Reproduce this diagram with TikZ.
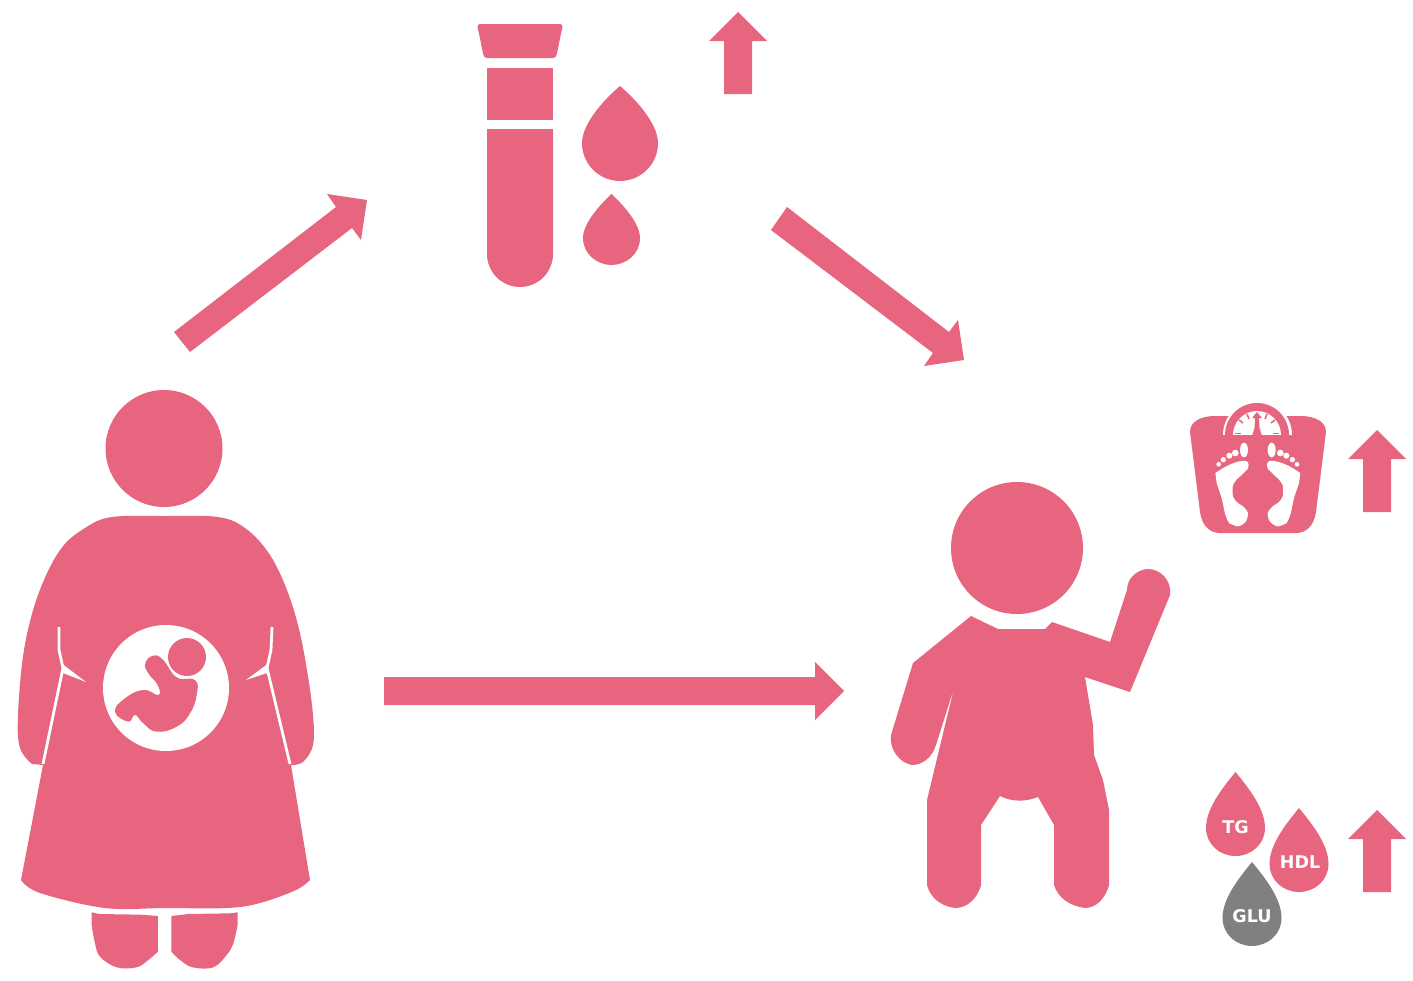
\documentclass[tikz,border=0pt]{standalone}
\usepackage{fontspec}
\setmainfont{DejaVu Sans}
\definecolor{rosefill}{HTML}{E8657F}
\definecolor{dropgray}{HTML}{808080}
\tikzset{
  rose/.style={fill=rosefill,draw=none},
  blank/.style={fill=white,draw=none},
  slit/.style={draw=white,line width=2.8pt,line join=round},
  droplabel/.style={text=white,font=\bfseries\fontsize{17.5}{17.5}\selectfont,inner sep=0pt},
  drop/.pic={\path[pic actions] (0,0) .. controls (14,17) and (29.5,37) .. (29.5,56) .. controls (29.5,72) and (16,84) .. (0,84) .. controls (-16,84) and (-29.5,72) .. (-29.5,56) .. controls (-29.5,37) and (-14,17) .. (0,0) -- cycle;},
}
\begin{document}
\begin{tikzpicture}[x=1pt,y=-1pt]
\useasboundingbox (0,0) rectangle (1413,980);
% arrows
\fill[rose] (724,94) -- (724,41) -- (709,41) -- (738,12) -- (767,41) -- (752,41) -- (752,94) -- cycle;
\fill[rose] (1363,512) -- (1363,459) -- (1348,459) -- (1377,430) -- (1406,459) -- (1391,459) -- (1391,512) -- cycle;
\fill[rose] (1363,892) -- (1363,839) -- (1348,839) -- (1377,810) -- (1406,839) -- (1391,839) -- (1391,892) -- cycle;
\fill[rose] (384,677) -- (815,677) -- (815,662) -- (844,691) -- (815,720) -- (815,705) -- (384,705) -- cycle;
\fill[rose] (174,332) -- (336,207) -- (327,194) -- (367,200) -- (361,240) -- (352,228) -- (190,352) -- cycle;
\fill[rose] (787,207) -- (771,230) -- (933,353) -- (924,366) -- (964,360) -- (958,320) -- (949,332) -- cycle;
% test tube
\fill[rose,rounded corners=3pt] (477,24) -- (563,24) -- (556,58) -- (484,58) -- cycle;
\fill[rose] (487,68) rectangle (553,120);
\fill[rose] (487,129) -- (553,129) -- (553,254) arc[start angle=0,end angle=180,radius=33] -- cycle;
\fill[rose] (620,86) .. controls (632,96) and (658,122) .. (658,143) .. controls (658,165) and (640,181) .. (620,181) .. controls (600,181) and (582,165) .. (582,143) .. controls (582,122) and (608,96) .. (620,86) -- cycle;
\fill[rose] (611.5,194) .. controls (620,202) and (640,222) .. (640,238) .. controls (640,254) and (626,265) .. (611.5,265) .. controls (597,265) and (583,254) .. (583,238) .. controls (583,222) and (603,202) .. (611.5,194) -- cycle;
% mother
\fill[rose] (164,448.5) circle[radius=58.5];
\fill[rose] plot[smooth,tension=.6] coordinates {(32,764) (20,748) (18,715) (24,650) (38,595) (60,550) (85,528) (112,517) (165,516) (218,517) (245,528) (268,552) (285,585) (298,625) (307,670) (313,715) (313,745) (303,762) (291,765)} -- (310,880) -- plot[smooth,tension=.6] coordinates {(310,880) (296,890) (260,903) (227,908) (165,908) (105,908) (40,893) (21,880)} -- (43,765) -- cycle;
\draw[slit] (59,627) -- (59,650) -- (63,668) -- (43,764);
\fill[blank] (61,663) -- (86,682) -- (63,673) -- cycle;
\draw[slit] (272,627) -- (271,650) -- (267,668) -- (290,764);
\fill[blank] (269,663) -- (246,680) -- (267,673) -- cycle;
\fill[blank] (166,688) circle[radius=63];
\fill[rose] (187,657) circle[radius=19];
\begin{scope}[shift={(0,600)},x=.3333pt,y=-.3333pt]
\fill[rose] plot[smooth cycle,tension=.8] coordinates {(436,190) (460,167) (490,180) (530,232) (585,240) (590,285) (570,340) (530,380) (470,395) (430,370) (405,345) (385,365) (345,335) (375,295) (430,270) (475,285) (473,255) (445,220)};
\end{scope}
\begin{scope}[shift={(70,880)},x=.3333pt,y=-.3333pt]
\fill[rose] plot[smooth,tension=.6] coordinates {(65,135) (75,190) (90,230) (140,262) (200,262) (235,240) (264,215)} -- (264,108) -- (212,104) -- (88,102) -- (65,97) -- cycle;
\fill[rose] plot[smooth,tension=.6] coordinates {(503,135) (490,190) (470,225) (430,262) (368,262) (330,240) (304,215)} -- (304,108) -- (355,102) -- (480,100) -- (503,97) -- cycle;
\end{scope}
% baby
\fill[rose] (1017,548) circle[radius=66];
\fill[rose] (971,616) -- (998,629) -- (1045,629) -- (1052,622) -- (1110,642) -- (1127,590) .. controls (1127,576) and (1140,569) .. (1148,569) .. controls (1160,569) and (1172,580) .. (1170,595) -- (1130,692) -- (1085,677) -- (1093,725) -- (1094,755) -- (1103,780) -- (1109,810) -- (1109,885) .. controls (1105,900) and (1095,908) .. (1085,908) .. controls (1070,906) and (1058,898) .. (1054,885) -- (1054,825) -- (1038,797) .. controls (1025,802) and (1012,802) .. (1000,796) -- (981,825) -- (981,885) .. controls (977,900) and (966,908) .. (955,908) .. controls (940,906) and (930,897) .. (927,885) -- (927,800) -- (954,688) -- (936,745) .. controls (932,758) and (922,765) .. (912,765) .. controls (900,763) and (889,750) .. (891,735) -- (913,663) -- cycle;
% scale
\fill[rose] (1190,432) .. controls (1190,422) and (1200,416) .. (1215,416) -- (1300,416) .. controls (1316,416) and (1326,422) .. (1326,432) -- (1316,512) .. controls (1314,526) and (1306,533) .. (1296,533) -- (1220,533) .. controls (1210,533) and (1202,526) .. (1200,512) -- cycle;
\fill[blank] (1223,435) arc[start angle=180,end angle=0,radius=34.5,y radius=-34.5] -- cycle;
\fill[rose] (1225,435) arc[start angle=180,end angle=0,radius=32,y radius=-32] -- cycle;
\fill[blank] (1233,435) arc[start angle=180,end angle=0,radius=24,y radius=-24] -- cycle;
\fill[rose] (1223,435) rectangle (1291,437);
\draw[rosefill,line width=1.6pt] (1235,433.5) -- (1241,433.5) (1273,433.5) -- (1279,433.5);
\draw[rosefill,line width=1.6pt] (1239,420) -- (1243,423) (1275,420) -- (1271,423) (1247,414) -- (1249,419) (1267,414) -- (1265,419);
\fill[rose] (1257,412) -- (1262,418) -- (1259,418) -- (1259.5,428) -- (1262,436) -- (1252,436) -- (1254.5,428) -- (1255,418) -- (1252,418) -- cycle;
\begin{scope}[shift={(1170,390)},x=.3333pt,y=-.3333pt]
\foreach \s/\c in {1/0,-1/527}{
\begin{scope}[shift={(\c,0)},xscale=\s]
\fill[blank] plot[smooth cycle,tension=.9] coordinates {(150,240) (215,213) (236,228) (220,250) (195,275) (188,300) (195,330) (225,355) (233,380) (215,405) (190,405) (170,385) (155,325) (138,265)};
\fill[blank] (222,180) ellipse[x radius=12,y radius=22];
\fill[blank] (196,189) circle[radius=10] (178,197) circle[radius=9] (160,209) circle[radius=8] (146,223) circle[radius=7];
\end{scope}}
\end{scope}
% lipid drops
\pic[rose] at (1235.5,772) {drop};
\pic[rose] at (1299,808) {drop};
\pic[fill=dropgray,draw=none] at (1252,862) {drop};
\node[droplabel] (tg) at (1235.5,827) {TG};
\node[droplabel] (hdl) at (1300,862.5) {HDL};
\node[droplabel] (glu) at (1252,916.5) {GLU};
\end{tikzpicture}
\end{document}
